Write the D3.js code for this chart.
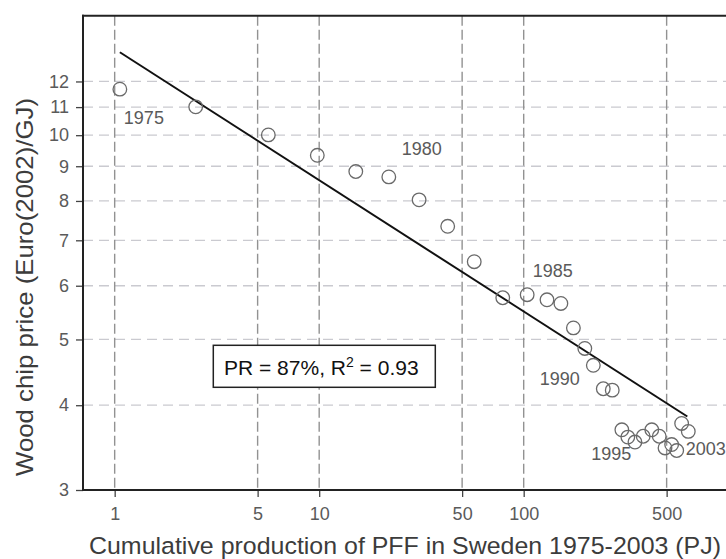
<!DOCTYPE html>
<html>
<head>
<meta charset="utf-8">
<script src="https://cdn.jsdelivr.net/npm/d3@7/dist/d3.min.js"></script>
<style>
  html, body { margin: 0; padding: 0; background: #fff; }
  svg { display: block; font-family: "Liberation Sans", Arial, sans-serif; }
</style>
</head>
<body>
<svg id="chart" width="726" height="559"></svg>
<script>
// ---- data ----
const years = [1975, 1976, 1977, 1978, 1979, 1980, 1981, 1982, 1983, 1984,
               1985, 1986, 1987, 1988, 1989, 1990, 1991, 1992, 1993, 1994,
               1995, 1996, 1997, 1998, 1999, 2000, 2001, 2002, 2003];
const cumProduction = [1.06, 2.49, 5.64, 9.79, 15.1, 21.9, 30.8, 42.5, 57.3, 79.0,
                       104, 130, 152, 175, 199, 219, 245, 271, 302, 323,
                       350, 384, 423, 460, 491, 529, 560, 592, 638];
const price = [11.69, 11.01, 10.01, 9.34, 8.84, 8.68, 8.03, 7.34, 6.51, 5.76,
               5.82, 5.72, 5.65, 5.20, 4.85, 4.58, 4.23, 4.21, 3.68, 3.59,
               3.53, 3.60, 3.68, 3.60, 3.46, 3.50, 3.43, 3.76, 3.66];
const fitX = [1.06, 631];
const fitY = [13.25, 3.85];
const labeledYears = [1975, 1980, 1985, 1990, 1995, 2003];
const xTicks = [1, 5, 10, 50, 100, 500];
const yTicks = [3, 4, 5, 6, 7, 8, 9, 10, 11, 12];
const annotation = "PR = 87%, R";
const annotationSup = "2";
const annotationTail = " = 0.93";
const xTitle = "Cumulative production of PFF in Sweden 1975-2003 (PJ)";
const yTitle = "Wood chip price (Euro(2002)/GJ)";

// ---- layout ----
(function () {
const svg = d3.select("#chart");
const pl = 83, pr = 728.2, pt = 15.7, pb = 490;
const x = d3.scaleLog().domain([0.7, 1000]).range([pl, pr]);
const y = d3.scaleLog().domain([3, 15]).range([pb, pt]);

// grid
svg.append("g").selectAll("line").data(yTicks.filter(d => d > 3)).join("line")
  .attr("x1", pl).attr("x2", 726)
  .attr("y1", d => y(d)).attr("y2", d => y(d))
  .attr("stroke", "#cacad0").attr("stroke-width", 1.3)
  .attr("stroke-dasharray", "10,6");
svg.append("g").selectAll("line").data(xTicks).join("line")
  .attr("x1", d => x(d)).attr("x2", d => x(d))
  .attr("y1", pt).attr("y2", pb)
  .attr("stroke", "#929292").attr("stroke-width", 1.4)
  .attr("stroke-dasharray", "10,4");

// axes
const xAxis = svg.append("g").attr("transform", `translate(0,${pb})`)
  .call(d3.axisBottom(x).tickValues(xTicks).tickFormat(d3.format("d")).tickSize(7).tickPadding(10));
const yAxis = svg.append("g").attr("transform", `translate(${pl},0)`)
  .call(d3.axisLeft(y).tickValues(yTicks).tickFormat(d3.format("d")).tickSize(7).tickPadding(7));
[xAxis, yAxis].forEach(g => {
  g.select(".domain").remove();
  g.selectAll(".tick line").attr("stroke", "#444").attr("stroke-width", 1.3);
  g.selectAll(".tick text").attr("fill", "#5a5a5a").attr("font-size", 18)
    .attr("font-family", "'Liberation Sans', Arial, sans-serif");
});

// frame
svg.append("line").attr("x1", pl).attr("x2", pl).attr("y1", pt - 1).attr("y2", pb + 1)
  .attr("stroke", "#222").attr("stroke-width", 2);
svg.append("line").attr("x1", pl - 1).attr("x2", 726).attr("y1", pb).attr("y2", pb)
  .attr("stroke", "#222").attr("stroke-width", 2);
svg.append("line").attr("x1", pl - 1).attr("x2", 726).attr("y1", pt).attr("y2", pt)
  .attr("stroke", "#222").attr("stroke-width", 2);

// fit line
svg.append("path")
  .datum(fitX.map((d, i) => [d, fitY[i]]))
  .attr("d", d3.line().x(d => x(d[0])).y(d => y(d[1])))
  .attr("fill", "none").attr("stroke", "#111").attr("stroke-width", 2);

// points
svg.append("g").selectAll("circle").data(years).join("circle")
  .attr("cx", (d, i) => x(cumProduction[i]))
  .attr("cy", (d, i) => y(price[i]))
  .attr("r", 6.8)
  .attr("fill", "none").attr("stroke", "#6a6a6a").attr("stroke-width", 1.3);

// year labels
const labelOffset = {1975: [4, 35], 1980: [13, -22], 1985: [5.5, -17.5],
                     1990: [-53.5, 19.3], 1995: [-43.7, 18.3], 2003: [-2.6, 23.3]};
svg.append("g").selectAll("text").data(labeledYears).join("text")
  .attr("x", d => x(cumProduction[years.indexOf(d)]) + labelOffset[d][0])
  .attr("y", d => y(price[years.indexOf(d)]) + labelOffset[d][1])
  .attr("font-size", 18).attr("fill", "#5a5a5a")
  .text(d => d);

// annotation box
svg.append("rect").attr("x", 213.3).attr("y", 345.3).attr("width", 222).attr("height", 42)
  .attr("fill", "#fff").attr("stroke", "#222").attr("stroke-width", 1.5);
const ann = svg.append("text").attr("x", 224).attr("y", 374.5).attr("font-size", 21).attr("fill", "#111");
ann.append("tspan").text(annotation);
ann.append("tspan").attr("font-size", 14).attr("dy", -8).text(annotationSup);
ann.append("tspan").attr("dy", 8).text(annotationTail);

// titles
svg.append("text").attr("x", 405).attr("y", 554).attr("text-anchor", "middle")
  .attr("font-size", 24.5).attr("fill", "#3c3c3c")
  .attr("textLength", 632).attr("lengthAdjust", "spacingAndGlyphs").text(xTitle);
svg.append("text").attr("transform", "translate(33,287) rotate(-90)").attr("text-anchor", "middle")
  .attr("font-size", 24.5).attr("fill", "#3c3c3c")
  .attr("textLength", 378).attr("lengthAdjust", "spacingAndGlyphs").text(yTitle);
})();
</script>
</body>
</html>
